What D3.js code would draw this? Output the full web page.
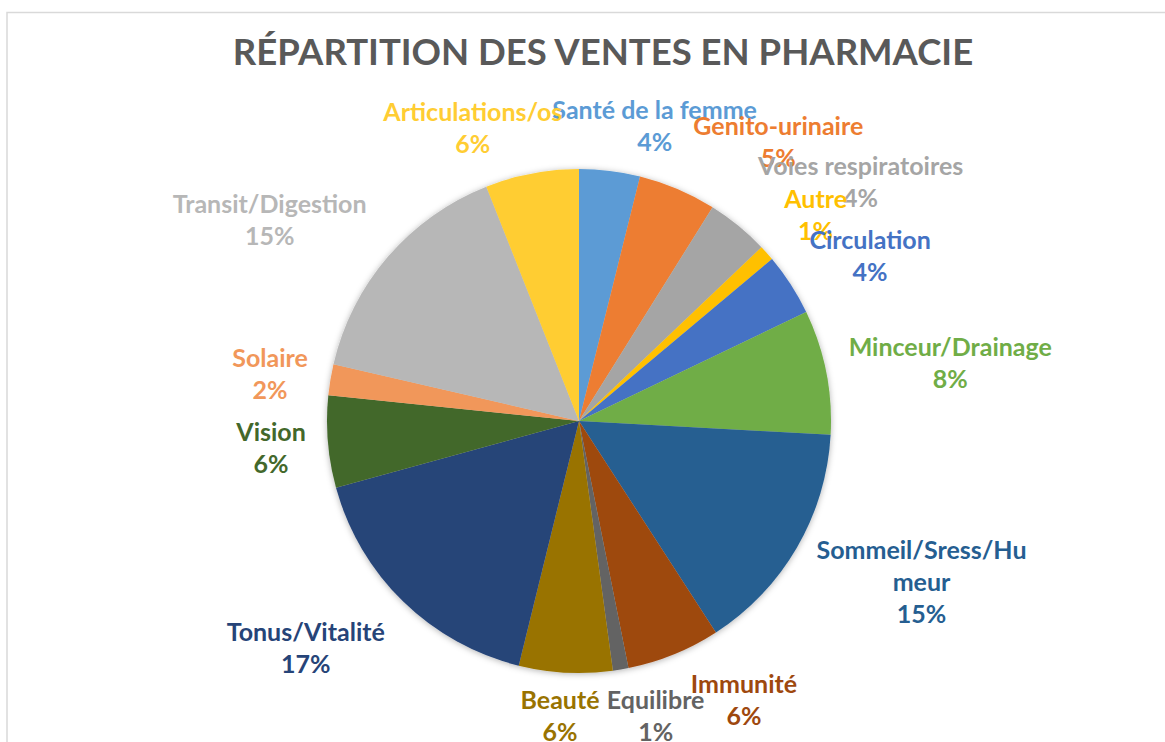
<!DOCTYPE html>
<html><head><meta charset="utf-8">
<script src="https://cdn.jsdelivr.net/npm/d3@7"></script>
<style>body{margin:0;background:#fff;} svg{display:block;}</style>
</head><body>
<svg id="chart" width="1165" height="742"></svg>
<script>
// ---- data ----
const categories = ["Santé de la femme","Genito-urinaire","Voies respiratoires","Autre","Circulation","Minceur/Drainage","Sommeil/Sress/Humeur","Immunité","Equilibre","Beauté","Tonus/Vitalité","Vision","Solaire","Transit/Digestion","Articulations/os"];
const values = [3.9,5,4,1,4,8,15,6,1,6,16.9,5.9,2,15.4,6];
const colors = ["#5B9BD5","#ED7D31","#A5A5A5","#FFC000","#4472C4","#70AD47","#255E91","#9E480E","#636363","#997300","#264478","#43682B","#F1975A","#B7B7B7","#FFCD33"];
const title = "RÉPARTITION DES VENTES EN PHARMACIE";
// label layout nudges (px) from the arc-based anchor, mimicking Excel's best-fit placement
const labelNudges = [[39,3],[82,-2],[92,-6],[13,-6],[39,-2],[77,1],[83,11],[52,2],[27,0],[-3,-4],[-64,13],[-9,3],[-13,3],[-82,-5],[-50,2]];

// ---- layout ----
const W = 1165, H = 742;
const cx = 579, cy = 421, R = 252;
const fontFam = "Lato, 'Open Sans', sans-serif";
const labelSize = 25, lineH = 32, wrapWidth = 230;

const svg = d3.select("#chart");
const defs = svg.append("defs");
const f = defs.append("filter").attr("id","shadow").attr("x","-10%").attr("y","-10%").attr("width","120%").attr("height","120%");
f.append("feDropShadow").attr("dx",0).attr("dy",1).attr("stdDeviation",3).attr("flood-color","#000").attr("flood-opacity",0.3);

// chart border
svg.append("rect").attr("x",7).attr("y",12.5).attr("width",1300).attr("height",900)
  .attr("fill","none").attr("stroke","#d9d9d9").attr("stroke-width",1.5);

svg.append("text").attr("x",603).attr("y",65).attr("text-anchor","middle")
  .attr("font-family",fontFam).attr("font-weight",700).attr("font-size",36.5)
  .attr("fill","#595959").text(title);

const data = categories.map((c,i)=>({name:c, value:values[i], color:colors[i], nudge:labelNudges[i]}));
const total = d3.sum(values);
const pie = d3.pie().value(d=>d.value).sort(null);
const arcs = pie(data);
const arc = d3.arc().innerRadius(0).outerRadius(R);
const labelArc = d3.arc().innerRadius(300).outerRadius(300);

const g = svg.append("g").attr("transform",`translate(${cx},${cy})`);
g.append("g").attr("filter","url(#shadow)")
  .selectAll("path").data(arcs).join("path")
  .attr("d",arc).attr("fill",d=>d.data.color);

const lg = g.append("g");
arcs.forEach(a=>{
  const [bx,by] = labelArc.centroid(a);
  const x = bx + a.data.nudge[0], y = by + a.data.nudge[1];
  const t = lg.append("text").attr("text-anchor","middle")
    .attr("font-family",fontFam).attr("font-weight",700).attr("font-size",labelSize)
    .attr("fill",a.data.color);
  // wrap name by characters like Excel
  const lines = [];
  const probe = t.append("tspan").text(a.data.name);
  if (probe.node().getComputedTextLength() > wrapWidth) {
    let cur = "";
    for (const ch of a.data.name) {
      probe.text(cur+ch);
      if (probe.node().getComputedTextLength() > 212 && cur) { lines.push(cur); cur = ch; }
      else cur += ch;
    }
    lines.push(cur);
  } else lines.push(a.data.name);
  probe.remove();
  lines.push(Math.round(a.data.value/total*100)+"%");
  const n = lines.length;
  lines.forEach((ln,i)=>{
    t.append("tspan").attr("x",x).attr("y", y + (i-(n-1)/2)*lineH + 8.5).text(ln);
  });
});
</script>
</body></html>
